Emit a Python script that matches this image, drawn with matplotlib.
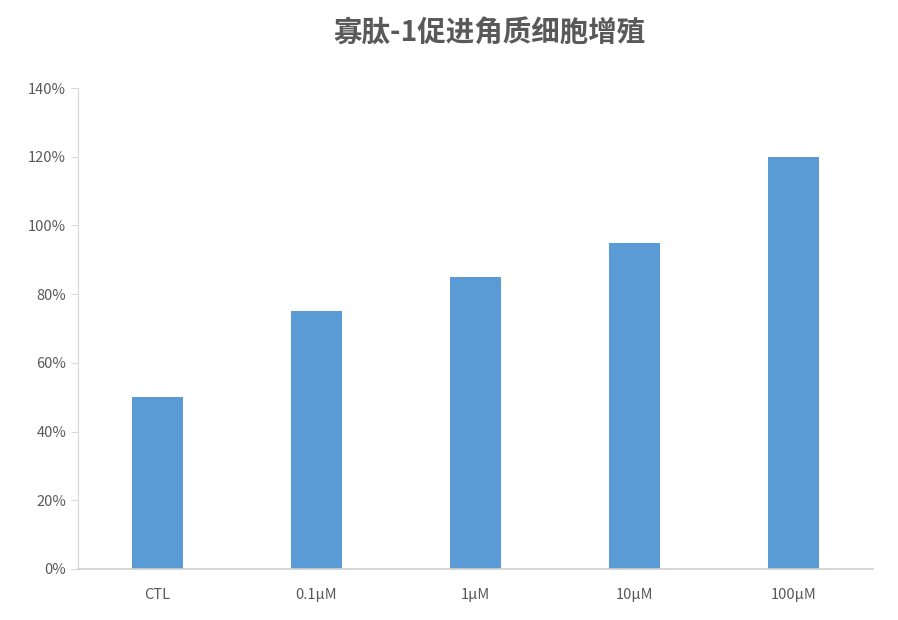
import matplotlib
matplotlib.use("Agg")
import matplotlib.pyplot as plt
from matplotlib.ticker import FuncFormatter

plt.rcParams['font.family'] = ['Noto Sans CJK SC', 'DejaVu Sans']

# data
categories = ["CTL", "0.1μM", "1μM", "10μM", "100μM"]
values = [50, 75, 85, 95, 120]
title = "寡肽-1促进角质细胞增殖"

fig = plt.figure(figsize=(8.98, 6.2), dpi=100)
ax = fig.add_axes([0.0869, 0.0823, 0.8853, 0.7757])

x = range(len(categories))
ax.bar(x, values, width=0.315, color="#5b9bd5", zorder=2)

ax.set_xlim(-0.5, len(categories) - 0.5)
ax.set_ylim(0, 140)
ax.set_yticks(range(0, 141, 20))
ax.yaxis.set_major_formatter(FuncFormatter(lambda v, p: f"{int(v)}%"))
ax.set_xticks(list(x))
ax.set_xticklabels(categories)

for s in ["top", "right"]:
    ax.spines[s].set_visible(False)
ax.spines["left"].set_color("#d9d9d9")
ax.spines["bottom"].set_color("#d0d0d0")
ax.spines["bottom"].set_linewidth(1.2)

ax.tick_params(axis="y", colors="#d9d9d9", labelcolor="#595959", labelsize=10.5, length=5)
ax.tick_params(axis="x", length=0, labelcolor="#595959", labelsize=10.5, pad=14)

fig.text(0.545, 0.945, title, ha="center", va="center", fontsize=20.5, color="#595959", fontweight="bold")

fig.savefig("out.png", dpi=100)
